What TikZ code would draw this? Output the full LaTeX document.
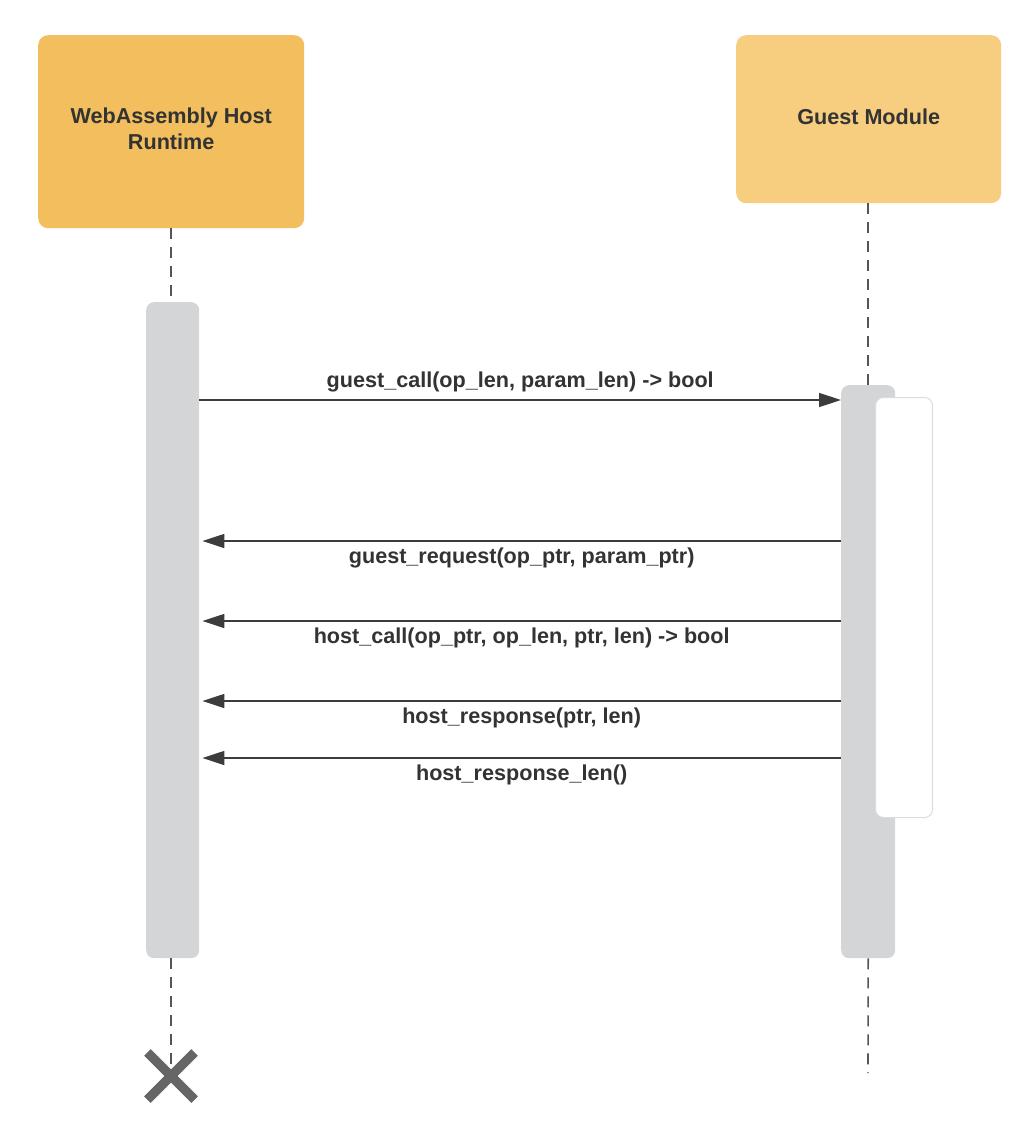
\documentclass[tikz,border=0pt]{standalone}
\usepackage{fontspec}
\setmainfont{Liberation Sans}
\usetikzlibrary{arrows.meta,shapes.misc}
\definecolor{hostor}{HTML}{F2BE5E}
\definecolor{guestor}{HTML}{F7CE80}
\definecolor{barg}{HTML}{D4D5D7}
\definecolor{txt}{HTML}{333333}
\definecolor{ln}{HTML}{3C3C3C}
\definecolor{dashc}{HTML}{555555}
\definecolor{xg}{HTML}{666666}
\definecolor{boxb}{HTML}{DCDCDC}
\begin{document}
\begin{tikzpicture}[x=1pt,y=-1pt,
  header/.style={rounded corners=10pt, inner sep=0pt, align=center, anchor=north west,
    font=\fontsize{21.6}{26}\selectfont\bfseries, text=txt, text depth=6pt},
  actbar/.style={rounded corners=8pt, fill=barg, inner sep=0pt, anchor=north west},
  innerbox/.style={rounded corners=8pt, fill=white, draw=boxb, line width=1pt, inner sep=0pt, anchor=north west},
  life/.style={draw=dashc, line width=1.6pt, dash pattern=on 11pt off 8pt},
  msg/.style={draw=ln, line width=1.5pt, -{Triangle[length=22pt,width=14pt]}},
  lab/.style={font=\fontsize{21.6}{26}\selectfont\bfseries, text=txt, anchor=base, inner sep=0pt},
  killmark/.style={cross out, draw=xg, line width=9pt, minimum size=38pt, inner sep=0pt}]
\useasboundingbox (0,0) rectangle (1030,1128);

% headers
\node[header, fill=hostor, minimum width=266pt, minimum height=193pt] (host) at (38,35) {WebAssembly Host\\Runtime};
\node[header, fill=guestor, minimum width=265pt, minimum height=168pt] (guest) at (736,35) {Guest Module};

% activation bars
\node[actbar, minimum width=53pt, minimum height=656pt] (hbar) at (146,302) {};
\node[actbar, minimum width=54pt, minimum height=573pt] (gbar) at (841,385) {};
\node[innerbox, minimum width=57pt, minimum height=420pt] (gin) at (875,397) {};

% end markers
\coordinate (gend) at (868,1073);
\node[killmark] (kill) at (171,1076) {};

% lifelines
\draw[life] (host.south -| 171,0) -- (hbar.north -| 171,0);
\draw[life] (hbar.south -| 171,0) -- (kill.center);
\draw[life] (guest.south -| gbar.north) -- (gbar.north);
\draw[life] (gbar.south) -- (gend);
\node[killmark] at (kill.center) {};

% messages
\draw[msg] (hbar.east |- 0,400) -- node[lab, yshift=13pt] {guest\_call(op\_len, param\_len) -> bool} (gbar.west |- 0,400);
\draw[msg] (gbar.west |- 0,541) -- node[lab, yshift=-22.5pt] {guest\_request(op\_ptr, param\_ptr)} ([xshift=3pt]hbar.east |- 0,541);
\draw[msg] (gbar.west |- 0,621) -- node[lab, yshift=-22.5pt] {host\_call(op\_ptr, op\_len, ptr, len) -> bool} ([xshift=3pt]hbar.east |- 0,621);
\draw[msg] (gbar.west |- 0,701) -- node[lab, yshift=-22.5pt] {host\_response(ptr, len)} ([xshift=3pt]hbar.east |- 0,701);
\draw[msg] (gbar.west |- 0,758) -- node[lab, yshift=-22.5pt] {host\_response\_len()} ([xshift=3pt]hbar.east |- 0,758);
\end{tikzpicture}
\end{document}
